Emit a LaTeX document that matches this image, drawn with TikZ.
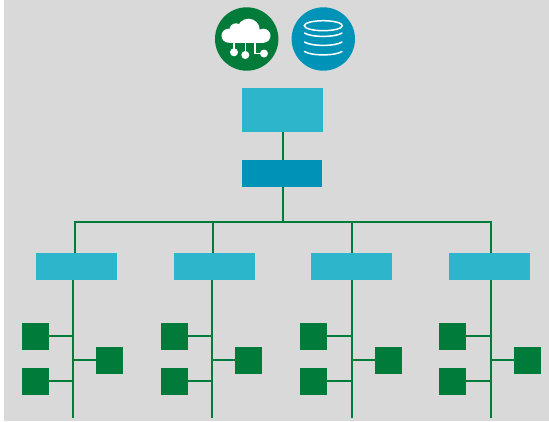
\documentclass[tikz,border=0pt]{standalone}
\definecolor{bg}{HTML}{D9D9D9}
\definecolor{cyanbox}{HTML}{2CB5CB}
\definecolor{bluebox}{HTML}{0093B8}
\definecolor{leaf}{HTML}{007B3A}
\tikzset{
  box/.style={draw=none,inner sep=0pt,outer sep=0pt,anchor=north west},
  topbox/.style={box,fill=cyanbox,minimum width=81pt,minimum height=44pt},
  midbox/.style={box,fill=bluebox,minimum width=80pt,minimum height=27pt},
  groupbox/.style={box,fill=cyanbox,minimum width=81pt,minimum height=27pt},
  leafbox/.style={box,fill=leaf,minimum width=27pt,minimum height=27pt},
  link/.style={draw=leaf,line width=2pt},
  badge/.style={circle,inner sep=0pt,outer sep=0pt,minimum size=63.4pt},
  glyph/.style={draw=white,line width=1.4pt,line cap=round},
  diskline/.style={draw=white,line width=1.5pt,line cap=round}
}
\newcommand{\leafgroup}[4]{%
  % #1 name, #2 left-square x, #3 spine x, #4 right-square x
  \node[leafbox] (#1a) at (#2,323) {};
  \node[leafbox] (#1b) at (#2,368) {};
  \node[leafbox] (#1c) at (#4,347) {};
  \coordinate (#1top) at (#3,280);
  \coordinate (#1end) at (#3,418);
  \coordinate (#1ja) at (#3,336);
  \coordinate (#1jb) at (#3,381);
  \coordinate (#1jc) at (#3,360);
  \draw[link] (#1top) -- (#1end);
  \draw[link] (#1a.east |- #1ja) -- (#1ja);
  \draw[link] (#1b.east |- #1jb) -- (#1jb);
  \draw[link] (#1c.west |- #1jc) -- (#1jc);
}
\begin{document}
\begin{tikzpicture}[x=1pt,y=-1pt]
\useasboundingbox (0,0) rectangle (549,421);
\fill[white] (0,0) rectangle (549,421);
\fill[bg] (4,0) rectangle (549,421);

% badges
\node[badge,fill=leaf] (cloud) at (246.7,39) {};
\node[badge,fill=bluebox] (disk) at (323.3,39) {};

% cloud glyph
\fill[white] (228.5,35.7) circle[radius=7];
\fill[white] (263.5,35.7) circle[radius=7];
\fill[white] (236,30) circle[radius=6.7];
\fill[white] (248.5,30) circle[radius=11.3];
\fill[white] (228.5,30) rectangle (263.5,42.7);
\draw[glyph] (234,42) -- (234,52);
\draw[glyph] (245.3,42) -- (245.3,55);
\draw[glyph] (255,42) -- (255,53.3) -- (264,53.3);
\fill[white] (234,52.3) circle[radius=4];
\fill[white] (245.3,55) circle[radius=4];
\fill[white] (264,53.5) circle[radius=4];

% disk glyph
\draw[diskline] (323.3,25.7) ellipse[x radius=19,y radius=5];
\draw[diskline] (304.5,33) .. controls (311,37.5) and (335.5,37.5) .. (342,33);
\draw[diskline] (304.5,42) .. controls (311,46.5) and (335.5,46.5) .. (342,42);
\draw[diskline] (304.5,51.5) .. controls (311,56) and (335.5,56) .. (342,51.5);

% upper boxes
\node[topbox] (server) at (242,88) {};
\node[midbox] (switch) at (242,160) {};
\coordinate (sa) at (283,132);
\coordinate (sb) at (283,160);
\coordinate (sc) at (283,187);
\coordinate (trunk) at (283,222);
\draw[link] (sa) -- (sb);
\draw[link] (sc) -- (trunk);

% bus
\coordinate (busa) at (75,222);
\coordinate (busb) at (213,222);
\coordinate (busc) at (352,222);
\coordinate (busd) at (491,222);
\draw[link,line cap=rect] (busa) -- (busd);

% groups
\node[groupbox] (ga) at (36,253) {};
\node[groupbox] (gb) at (174,253) {};
\node[groupbox] (gc) at (311,253) {};
\node[groupbox] (gd) at (449,253) {};
\coordinate (da) at (75,253);
\coordinate (db) at (213,253);
\coordinate (dc) at (352,253);
\coordinate (dd) at (491,253);
\draw[link] (busa) -- (da);
\draw[link] (busb) -- (db);
\draw[link] (busc) -- (dc);
\draw[link] (busd) -- (dd);

% leaves
\leafgroup{la}{22}{73}{96}
\leafgroup{lb}{161}{212}{235}
\leafgroup{lc}{300}{352}{375}
\leafgroup{ld}{439}{491}{514}
\end{tikzpicture}
\end{document}
